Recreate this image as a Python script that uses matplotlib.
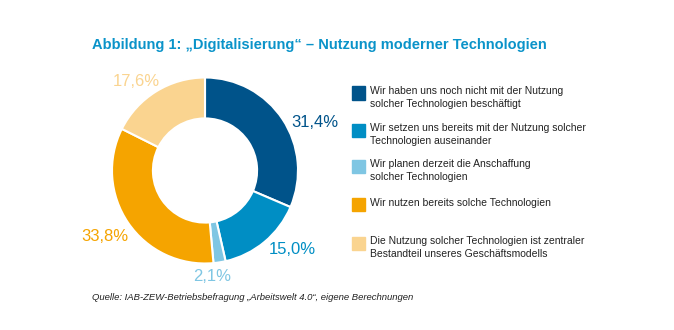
import numpy as np
import matplotlib
matplotlib.use("Agg")
import matplotlib.pyplot as plt

plt.rcParams['font.family'] = ['Liberation Sans', 'DejaVu Sans']

# Anteile der Betriebe in Prozent
categories = [
    "Wir haben uns noch nicht mit der Nutzung\nsolcher Technologien beschäftigt",
    "Wir setzen uns bereits mit der Nutzung solcher\nTechnologien auseinander",
    "Wir planen derzeit die Anschaffung\nsolcher Technologien",
    "Wir nutzen bereits solche Technologien",
    "Die Nutzung solcher Technologien ist zentraler\nBestandteil unseres Geschäftsmodells",
]
shares = [31.4, 15.0, 2.1, 33.8, 17.6]
colors = ["#00538a", "#008ec4", "#7fc6e3", "#f5a400", "#fad490"]

title = "Abbildung 1: \u201eDigitalisierung\u201c \u2013 Nutzung moderner Technologien"
source = "Quelle: IAB-ZEW-Betriebsbefragung \u201eArbeitswelt 4.0\u201c, eigene Berechnungen"

fig = plt.figure(figsize=(6.74, 3.30), dpi=100)
W, H = 674, 330

# Ring diagram
cx, cy, r = 205, 170.5, 93
ax = fig.add_axes([(cx - r) / W, (H - cy - r) / H, 2 * r / W, 2 * r / H])
wedges, _ = ax.pie(shares, colors=colors, startangle=90, counterclock=False,
                   radius=1.0, wedgeprops=dict(width=0.44, edgecolor="white", linewidth=1.5))
ax.set_xlim(-1, 1)
ax.set_ylim(-1, 1)
ax.set_aspect("equal")
ax.axis("off")

# value labels around the ring
label_dist = [1.29, 1.27, 1.14, 1.29, 1.21]
angle_nudge = [-10, 8, -5, -1, 6]
for w, val, col, d, nd in zip(wedges, shares, colors, label_dist, angle_nudge):
    mid = np.deg2rad((w.theta1 + w.theta2) / 2 + nd)
    txt = f"{val:.1f}".replace(".", ",") + "%"
    ax.text(d * np.cos(mid), d * np.sin(mid), txt, color=col, fontsize=12,
            ha="center", va="center")

# legend
leg_y = [93, 130, 166.5, 204.5, 243.5]
for lab, col, y in zip(categories, colors, leg_y):
    fig.patches.append(plt.Rectangle((352 / W, (H - y - 6.5) / H), 13 / W, 13 / H,
                                     transform=fig.transFigure, color=col))
    fig.text(370 / W, (H - y + 7) / H, lab, fontsize=7.5, va="top", ha="left",
             color="#222222", linespacing=1.35)

fig.text(92 / W, (H - 45) / H, title, fontsize=10.5, fontweight="bold",
         color="#0a93c9", va="center", ha="left")
fig.text(92 / W, (H - 297) / H, source, fontsize=6.8, style="italic",
         color="#222222", va="center", ha="left")

fig.savefig("out.png", dpi=100, facecolor="white")
